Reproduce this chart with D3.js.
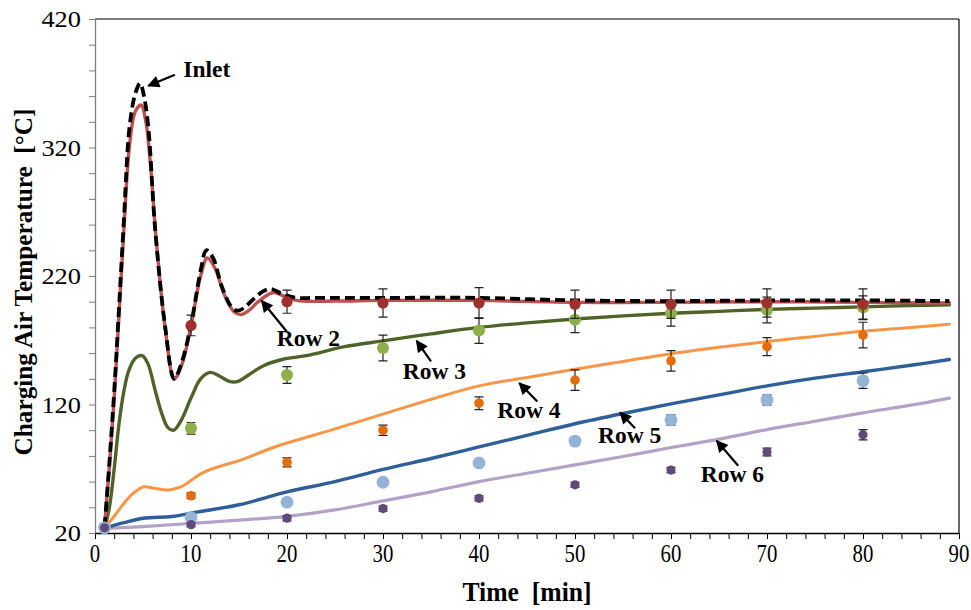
<!DOCTYPE html>
<html>
<head>
<meta charset="utf-8">
<script src="https://cdn.jsdelivr.net/npm/d3@7"></script>
<style>
  html, body { margin: 0; padding: 0; background: #ffffff; }
  svg { display: block; }
  text { font-family: "Liberation Serif", "Times New Roman", serif; }
</style>
</head>
<body>
<svg id="chart" width="971" height="610"></svg>
<script>
// ---- simulated charging air temperature (lines) ----
const inletTime = [1, 1.5, 2, 2.5, 3, 3.6, 4.2, 4.7, 5.1, 5.55, 6.25, 7.3, 8.25, 9, 10, 11, 11.6, 12.3, 13.2, 14.2, 14.8, 15.5, 16.5, 17.5, 18.3, 19.5, 21, 23, 30, 40, 50, 60, 70, 80, 89];
const inletTemp = [25, 75, 130, 195, 262, 336, 362, 370, 360, 336, 258, 181, 140, 152, 182, 224, 240, 234, 212, 196, 193, 195, 202, 208, 210, 206, 203, 203, 203, 203, 201, 200.5, 201, 201, 200.5];

const row2Time = [1, 1.5, 2, 2.5, 3, 3.6, 4.2, 4.8, 5.3, 5.8, 6.3, 7.3, 8.25, 9, 10, 11, 11.7, 12.5, 13.5, 14.5, 15.2, 16, 17, 18.5, 19.5, 21, 25, 30, 40, 50, 60, 70, 80, 89];
const row2Temp = [25, 72, 125, 190, 255, 322, 348, 353, 340, 305, 255, 180, 140, 150, 181, 220, 234, 226, 205, 192, 190, 193, 200, 207, 205, 201, 200.5, 201, 201, 199.5, 199.5, 200, 199.5, 199];

const row3Time = [1, 1.5, 2, 2.5, 3, 3.5, 4.2, 4.9, 5.5, 6.3, 7, 7.6, 8.2, 9, 10, 11, 12, 13, 14, 14.9, 16, 17.5, 19.5, 22, 26, 30, 35, 40, 45, 50, 55, 60, 65, 70, 75, 80, 85, 89];
const row3Temp = [24, 40, 70, 105, 130, 146, 156, 158, 152, 130, 112, 102, 100, 108, 125, 140, 145, 142, 138, 138, 143, 150, 155, 158, 165, 169.5, 175, 180, 183.5, 186.5, 189, 191, 192.5, 194, 195, 196, 197, 197.5];

const row4Time = [1, 2, 3, 4, 5.1, 6, 7.7, 9, 10.1, 11, 12.2, 13.5, 14.7, 16, 18, 20, 25, 30, 35, 40, 45, 50, 55, 60, 65, 70, 75, 80, 85, 89];
const row4Temp = [24, 33, 43, 51, 56, 55, 53.5, 56, 61.5, 66, 70, 73, 75.5, 79, 85, 90, 101, 112.5, 124, 134.5, 141, 147.5, 153.5, 159.5, 164.5, 169, 173, 177, 180, 182.5];

const row5Time = [1, 2, 3, 5, 8, 10, 15, 20, 25, 30, 35, 40, 45, 50, 55, 60, 65, 70, 75, 80, 85, 89];
const row5Temp = [24, 26, 28, 31.5, 32.8, 35.5, 42, 52, 60, 69.5, 78, 87, 96, 105, 113, 120.5, 127.5, 134.5, 140.5, 145.5, 150.5, 155];

const row6Time = [1, 5, 10, 15, 20, 25, 30, 35, 40, 45, 50, 55, 60, 65, 70, 75, 80, 85, 89];
const row6Temp = [23.5, 25, 27.5, 30, 33, 38, 45, 52, 60, 66.5, 73, 79.5, 86.5, 93, 100.5, 107, 113.5, 119.5, 125];

// ---- measured temperatures with error bars (points) ----
const measTime = [1, 10, 20, 30, 40, 50, 60, 70, 80];
const row2Meas = [24, 181.5, 200, 199, 199, 198, 198, 199, 198];
const row2Err  = [0, 8, 9, 11, 12, 11, 11, 11, 12];
const row3Meas = [24, 101.5, 143, 164, 177.5, 186, 191, 193.5, 195.5];
const row3Err  = [0, 4.5, 6.5, 10, 10, 10, 10, 10, 9];
const row4Meas = [24, 49, 75, 100, 121, 139, 154, 165, 174];
const row4Err  = [0, 2, 3.5, 4, 5, 8, 8, 7, 10];
const row5Meas = [24, 32, 44, 59.5, 74.5, 91.5, 108, 123.5, 138.5];
const row5Err  = [0, 2, 2, 2, 2, 3, 4, 4, 6];
const row6Meas = [24, 26.5, 31.5, 39, 47, 57.5, 69, 83, 96.5];
const row6Err  = [0, 1.5, 2, 2, 2, 2, 2, 3, 4];

// ---- axes ----
const xDomain = [0, 90];
const yDomain = [20, 420];
const xMajorTicks = [0, 10, 20, 30, 40, 50, 60, 70, 80, 90];
const yMajorTicks = [20, 120, 220, 320, 420];
const xTitle = "Time  [min]";
const yTitle = "Charging Air Temperature  [°C]";

// ---- drawing ----
const svg = d3.select("#chart");
const x = d3.scaleLinear().domain(xDomain).range([95, 959]);
const y = d3.scaleLinear().domain(yDomain).range([533, 19]);

const zip = (a, b) => a.map((d, i) => [d, b[i]]);
const line = d3.line().x(d => x(d[0])).y(d => y(d[1])).curve(d3.curveCatmullRom.alpha(0.5));

// frame: top and right edges
svg.append("line").attr("x1", x(0)).attr("x2", x(90)).attr("y1", y(420)).attr("y2", y(420))
  .attr("stroke", "#000").attr("stroke-width", 1.2);
svg.append("line").attr("x1", x(90)).attr("x2", x(90)).attr("y1", y(420)).attr("y2", y(20))
  .attr("stroke", "#000").attr("stroke-width", 1.2);

// x axis (ticks every 2 min)
const gx = svg.append("g").attr("transform", `translate(0,${y(20)})`)
  .call(d3.axisBottom(x).tickValues(d3.range(0, 91, 2)).tickSize(6).tickSizeOuter(0).tickFormat(""));
gx.select(".domain").attr("stroke", "#000").attr("stroke-width", 1.3);
gx.selectAll(".tick line").attr("stroke", "#000");

// y axis (ticks every 20 °C)
const gy = svg.append("g").attr("transform", `translate(${x(0)},0)`)
  .call(d3.axisLeft(y).tickValues(d3.range(20, 421, 20)).tickSize(6).tickSizeOuter(0).tickFormat(""));
gy.select(".domain").attr("stroke", "#7f7f7f").attr("stroke-width", 1.3);
gy.selectAll(".tick line").attr("stroke", "#7f7f7f");

// tick labels
svg.append("g").selectAll("text").data(xMajorTicks).join("text")
  .attr("transform", d => `translate(${x(d)},${y(20) + 29}) scale(0.8,1)`)
  .attr("text-anchor", "middle").attr("font-size", 26).attr("fill", "#000")
  .text(d => d);
svg.append("g").selectAll("text").data(yMajorTicks).join("text")
  .attr("transform", d => `translate(${x(0) - 14},${y(d) + 8}) scale(1.1,1)`)
  .attr("text-anchor", "end").attr("font-size", 24).attr("fill", "#000")
  .text(d => d);

// axis titles
svg.append("text").attr("transform", `translate(${(x(0) + x(90)) / 2},601) scale(0.95,1)`)
  .attr("text-anchor", "middle").attr("font-size", 27).attr("font-weight", "bold")
  .style("white-space", "pre").text(xTitle);
svg.append("text").attr("transform", `translate(32,${(y(20) + y(420)) / 2 + 6}) rotate(-90) scale(0.97,1)`)
  .attr("text-anchor", "middle").attr("font-size", 26).attr("font-weight", "bold")
  .style("white-space", "pre").text(yTitle);

// simulated lines
const lines = [
  { t: row6Time, v: row6Temp, color: "#b3a2c7", w: 3.2 },
  { t: row5Time, v: row5Temp, color: "#2f5f98", w: 3.4 },
  { t: row4Time, v: row4Temp, color: "#f79646", w: 3 },
  { t: row3Time, v: row3Temp, color: "#4f6228", w: 3.4 },
  { t: row2Time, v: row2Temp, color: "#c0504d", w: 3.4 },
];
lines.forEach(s => {
  svg.append("path").datum(zip(s.t, s.v)).attr("d", line)
    .attr("fill", "none").attr("stroke", s.color).attr("stroke-width", s.w)
    .attr("stroke-linejoin", "round").attr("stroke-linecap", "round");
});
svg.append("path").datum(zip(inletTime, inletTemp)).attr("d", line)
  .attr("fill", "none").attr("stroke", "#000").attr("stroke-width", 3.8)
  .attr("stroke-dasharray", "10,5");

// measured points with error bars
const points = [
  { v: row4Meas, e: row4Err, color: "#e46c0a", r: 4.8 },
  { v: row3Meas, e: row3Err, color: "#8db04a", r: 6 },
  { v: row2Meas, e: row2Err, color: "#a0302d", r: 5.6 },
  { v: row5Meas, e: row5Err, color: "#95b3d7", r: 6.4 },
  { v: row6Meas, e: row6Err, color: "#604a7b", r: 4.6 },
];
points.forEach(s => {
  const g = svg.append("g");
  const data = measTime.map((t, i) => ({ t, v: s.v[i], e: s.e[i] })).filter(d => d.e > 0);
  g.selectAll(".eb").data(data).join("path")
    .attr("d", d => {
      const cx = x(d.t), y1 = y(d.v + d.e), y2 = y(d.v - d.e);
      return `M${cx},${y1}V${y2}M${cx - 4.5},${y1}H${cx + 4.5}M${cx - 4.5},${y2}H${cx + 4.5}`;
    })
    .attr("stroke", "#222").attr("stroke-width", 1.2).attr("fill", "none");
  g.selectAll("circle").data(measTime.map((t, i) => [t, s.v[i]])).join("circle")
    .attr("cx", d => x(d[0])).attr("cy", d => y(d[1])).attr("r", s.r).attr("fill", s.color);
});

// annotations: arrow head and tail in data units, label anchor in data units
const notes = [
  { text: "Inlet", head: [5.55, 368], tail: [8.33, 376.6], label: [9.2, 375] },
  { text: "Row 2", head: [17.36, 200.7], tail: [19.97, 176.8], label: [18.93, 165.7] },
  { text: "Row 3", head: [33.5, 169.6], tail: [35.0, 153.5], label: [32.05, 139.8] },
  { text: "Row 4", head: [44.2, 136.7], tail: [46.07, 122.3], label: [41.9, 109.4] },
  { text: "Row 5", head: [54.7, 113.8], tail: [56.25, 101.6], label: [52.4, 90] },
  { text: "Row 6", head: [64.76, 91.75], tail: [67.0, 72.3], label: [63.1, 59.3] },
];
svg.append("defs").append("marker").attr("id", "arrowHead")
  .attr("viewBox", "0 0 10 10").attr("refX", 9).attr("refY", 5)
  .attr("markerWidth", 6).attr("markerHeight", 5.5).attr("markerUnits", "strokeWidth")
  .attr("orient", "auto")
  .append("path").attr("d", "M0,0L10,5L0,10Z").attr("fill", "#000");
notes.forEach(n => {
  svg.append("line")
    .attr("x1", x(n.tail[0])).attr("y1", y(n.tail[1]))
    .attr("x2", x(n.head[0])).attr("y2", y(n.head[1]))
    .attr("stroke", "#000").attr("stroke-width", 2.2).attr("marker-end", "url(#arrowHead)");
  svg.append("text").attr("x", x(n.label[0])).attr("y", y(n.label[1]))
    .attr("font-size", 23.5).attr("font-weight", "bold").attr("fill", "#000").text(n.text);
});
</script>
</body>
</html>
